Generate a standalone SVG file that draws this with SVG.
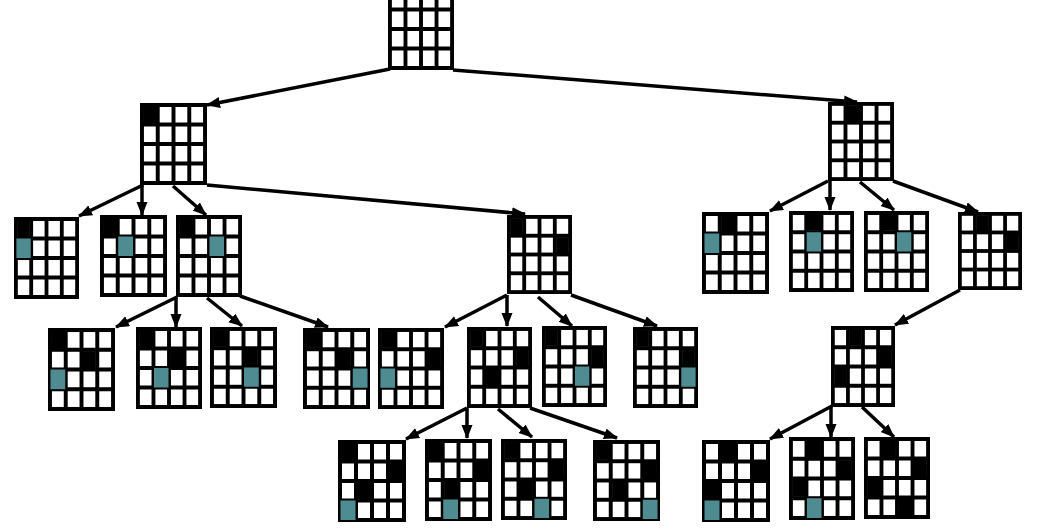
<svg xmlns="http://www.w3.org/2000/svg" xmlns:xlink="http://www.w3.org/1999/xlink" width="1038" height="532" viewBox="0 0 1038 532">
<style>
.c{fill:#fff}
.q{fill:#000}
.t{fill:#4e8c92}
.e{fill:none;stroke:#000;stroke-width:3.5;marker-end:url(#ah)}
</style>
<defs>
<marker id="ah" markerUnits="userSpaceOnUse" markerWidth="15" markerHeight="12" refX="13" refY="5.5" orient="auto">
<path d="M0,0 L14,5.5 L0,11 z" fill="#000"/>
</marker>
<g id="board">
<rect width="68" height="82" fill="#000"/>
<rect class="c" x="4" y="4" width="12" height="15.5"/>
<rect class="c" x="20" y="4" width="12" height="15.5"/>
<rect class="c" x="36" y="4" width="12" height="15.5"/>
<rect class="c" x="52" y="4" width="12" height="15.5"/>
<rect class="c" x="4" y="23.5" width="12" height="15.5"/>
<rect class="c" x="20" y="23.5" width="12" height="15.5"/>
<rect class="c" x="36" y="23.5" width="12" height="15.5"/>
<rect class="c" x="52" y="23.5" width="12" height="15.5"/>
<rect class="c" x="4" y="43" width="12" height="15.5"/>
<rect class="c" x="20" y="43" width="12" height="15.5"/>
<rect class="c" x="36" y="43" width="12" height="15.5"/>
<rect class="c" x="52" y="43" width="12" height="15.5"/>
<rect class="c" x="4" y="62.5" width="12" height="15.5"/>
<rect class="c" x="20" y="62.5" width="12" height="15.5"/>
<rect class="c" x="36" y="62.5" width="12" height="15.5"/>
<rect class="c" x="52" y="62.5" width="12" height="15.5"/>
</g>
</defs>
<rect width="1038" height="532" fill="#fff"/>

<g id="connectors">
<line class="e" x1="390" y1="69" x2="207" y2="105"/>
<line class="e" x1="453" y1="70" x2="857" y2="102"/>
<line class="e" x1="143" y1="185" x2="79" y2="216"/>
<line class="e" x1="142" y1="185" x2="142" y2="215"/>
<line class="e" x1="173" y1="186" x2="206" y2="215"/>
<line class="e" x1="207" y1="185" x2="525" y2="214"/>
<line class="e" x1="828" y1="181" x2="770" y2="211"/>
<line class="e" x1="830" y1="181" x2="830" y2="210"/>
<line class="e" x1="860" y1="182" x2="894" y2="210"/>
<line class="e" x1="893" y1="181" x2="978" y2="212"/>
<line class="e" x1="960" y1="290" x2="895" y2="325"/>
<line class="e" x1="177" y1="297" x2="116" y2="327"/>
<line class="e" x1="176" y1="297" x2="176" y2="327"/>
<line class="e" x1="207" y1="298" x2="242" y2="326"/>
<line class="e" x1="240" y1="296" x2="328" y2="327"/>
<line class="e" x1="507" y1="295" x2="445" y2="327"/>
<line class="e" x1="507" y1="295" x2="507" y2="326"/>
<line class="e" x1="538" y1="297" x2="572" y2="326"/>
<line class="e" x1="571" y1="295" x2="657" y2="326"/>
<line class="e" x1="467" y1="408" x2="406" y2="439"/>
<line class="e" x1="467" y1="408" x2="467" y2="438"/>
<line class="e" x1="498" y1="409" x2="532" y2="437"/>
<line class="e" x1="530" y1="408" x2="617" y2="438"/>
<line class="e" x1="832" y1="406" x2="770" y2="439"/>
<line class="e" x1="831" y1="407" x2="831" y2="437"/>
<line class="e" x1="862" y1="407" x2="894" y2="437"/>
</g>

<g id="n-root" transform="translate(388,-12) scale(0.9706,1)"><use xlink:href="#board" href="#board"/></g>

<g id="n-1a" transform="translate(140,103) scale(0.9853,1)"><use xlink:href="#board" href="#board"/>
<rect class="q" x="3.5" y="3.5" width="13" height="16.5"/></g>

<g id="n-1b" transform="translate(828,102) scale(0.9706,0.9634)"><use xlink:href="#board" href="#board"/>
<rect class="q" x="19.5" y="3.5" width="13" height="16.5"/></g>

<g id="n-2a" transform="translate(14,217) scale(0.9559,1)"><use xlink:href="#board" href="#board"/>
<rect class="q" x="3.5" y="3.5" width="13" height="16.5"/>
<rect class="t" x="2.5" y="21.5" width="15" height="19.5"/></g>

<g id="n-2b" transform="translate(100,215) scale(0.9853,1)"><use xlink:href="#board" href="#board"/>
<rect class="q" x="3.5" y="3.5" width="13" height="16.5"/>
<rect class="t" x="18.5" y="21.5" width="15" height="19.5"/></g>

<g id="n-2c" transform="translate(176,215) scale(0.9706,1)"><use xlink:href="#board" href="#board"/>
<rect class="q" x="3.5" y="3.5" width="13" height="16.5"/>
<rect class="t" x="34.5" y="21.5" width="15" height="19.5"/></g>

<g id="n-2m" transform="translate(507,215) scale(0.9559,0.9634)"><use xlink:href="#board" href="#board"/>
<rect class="q" x="3.5" y="3.5" width="13" height="16.5"/>
<rect class="q" x="51.5" y="23" width="13" height="16.5"/></g>

<g id="n-2ra" transform="translate(702,212) scale(0.9853,1)"><use xlink:href="#board" href="#board"/>
<rect class="q" x="19.5" y="3.5" width="13" height="16.5"/>
<rect class="t" x="2.5" y="21.5" width="15" height="19.5"/></g>

<g id="n-2rb" transform="translate(789,211) scale(0.9559,0.9878)"><use xlink:href="#board" href="#board"/>
<rect class="q" x="19.5" y="3.5" width="13" height="16.5"/>
<rect class="t" x="18.5" y="21.5" width="15" height="19.5"/></g>

<g id="n-2rc" transform="translate(864,211) scale(0.9559,0.9878)"><use xlink:href="#board" href="#board"/>
<rect class="q" x="19.5" y="3.5" width="13" height="16.5"/>
<rect class="t" x="34.5" y="21.5" width="15" height="19.5"/></g>

<g id="n-2rd" transform="translate(958,212) scale(0.9412,0.9512)"><use xlink:href="#board" href="#board"/>
<rect class="q" x="19.5" y="3.5" width="13" height="16.5"/>
<rect class="q" x="51.5" y="23" width="13" height="16.5"/></g>

<g id="n-3i" transform="translate(48,328) scale(0.9853,1.0122)"><use xlink:href="#board" href="#board"/>
<rect class="q" x="3.5" y="3.5" width="13" height="16.5"/>
<rect class="q" x="35.5" y="23" width="13" height="16.5"/>
<rect class="t" x="2.5" y="41" width="15" height="19.5"/></g>

<g id="n-3j" transform="translate(136,327) scale(0.9706,1)"><use xlink:href="#board" href="#board"/>
<rect class="q" x="3.5" y="3.5" width="13" height="16.5"/>
<rect class="q" x="35.5" y="23" width="13" height="16.5"/>
<rect class="t" x="18.5" y="41" width="15" height="19.5"/></g>

<g id="n-3k" transform="translate(210,327) scale(0.9853,0.9878)"><use xlink:href="#board" href="#board"/>
<rect class="q" x="3.5" y="3.5" width="13" height="16.5"/>
<rect class="q" x="35.5" y="23" width="13" height="16.5"/>
<rect class="t" x="34.5" y="41" width="15" height="19.5"/></g>

<g id="n-3l" transform="translate(303,328) scale(0.9853,0.9878)"><use xlink:href="#board" href="#board"/>
<rect class="q" x="3.5" y="3.5" width="13" height="16.5"/>
<rect class="q" x="35.5" y="23" width="13" height="16.5"/>
<rect class="t" x="50.5" y="41" width="15" height="19.5"/></g>

<g id="n-3e" transform="translate(378,328) scale(0.9706,0.9878)"><use xlink:href="#board" href="#board"/>
<rect class="q" x="3.5" y="3.5" width="13" height="16.5"/>
<rect class="q" x="51.5" y="23" width="13" height="16.5"/>
<rect class="t" x="2.5" y="41" width="15" height="19.5"/></g>

<g id="n-3f" transform="translate(467,327) scale(0.9559,0.9878)"><use xlink:href="#board" href="#board"/>
<rect class="q" x="3.5" y="3.5" width="13" height="16.5"/>
<rect class="q" x="51.5" y="23" width="13" height="16.5"/>
<rect class="q" x="19.5" y="42.5" width="13" height="16.5"/></g>

<g id="n-3g" transform="translate(542,326) scale(0.9559,0.9878)"><use xlink:href="#board" href="#board"/>
<rect class="q" x="3.5" y="3.5" width="13" height="16.5"/>
<rect class="q" x="51.5" y="23" width="13" height="16.5"/>
<rect class="t" x="34.5" y="41" width="15" height="19.5"/></g>

<g id="n-3h" transform="translate(633,327) scale(0.9559,0.9878)"><use xlink:href="#board" href="#board"/>
<rect class="q" x="3.5" y="3.5" width="13" height="16.5"/>
<rect class="q" x="51.5" y="23" width="13" height="16.5"/>
<rect class="t" x="50.5" y="41" width="15" height="19.5"/></g>

<g id="n-3q" transform="translate(831,326) scale(0.9412,0.9878)"><use xlink:href="#board" href="#board"/>
<rect class="q" x="19.5" y="3.5" width="13" height="16.5"/>
<rect class="q" x="51.5" y="23" width="13" height="16.5"/>
<rect class="q" x="3.5" y="42.5" width="13" height="16.5"/></g>

<g id="n-4m" transform="translate(338,440) scale(1,1)"><use xlink:href="#board" href="#board"/>
<rect class="q" x="3.5" y="3.5" width="13" height="16.5"/>
<rect class="q" x="51.5" y="23" width="13" height="16.5"/>
<rect class="q" x="19.5" y="42.5" width="13" height="16.5"/>
<rect class="t" x="2.5" y="60.5" width="15" height="19.5"/></g>

<g id="n-4n" transform="translate(425,439) scale(0.9853,1)"><use xlink:href="#board" href="#board"/>
<rect class="q" x="3.5" y="3.5" width="13" height="16.5"/>
<rect class="q" x="51.5" y="23" width="13" height="16.5"/>
<rect class="q" x="19.5" y="42.5" width="13" height="16.5"/>
<rect class="t" x="18.5" y="60.5" width="15" height="19.5"/></g>

<g id="n-4o" transform="translate(501,439) scale(0.9706,0.9878)"><use xlink:href="#board" href="#board"/>
<rect class="q" x="3.5" y="3.5" width="13" height="16.5"/>
<rect class="q" x="51.5" y="23" width="13" height="16.5"/>
<rect class="q" x="19.5" y="42.5" width="13" height="16.5"/>
<rect class="t" x="34.5" y="60.5" width="15" height="19.5"/></g>

<g id="n-4p" transform="translate(593,440) scale(0.9853,0.9878)"><use xlink:href="#board" href="#board"/>
<rect class="q" x="3.5" y="3.5" width="13" height="16.5"/>
<rect class="q" x="51.5" y="23" width="13" height="16.5"/>
<rect class="q" x="19.5" y="42.5" width="13" height="16.5"/>
<rect class="t" x="50.5" y="60.5" width="15" height="19.5"/></g>

<g id="n-4r" transform="translate(702,440) scale(1,1)"><use xlink:href="#board" href="#board"/>
<rect class="q" x="19.5" y="3.5" width="13" height="16.5"/>
<rect class="q" x="51.5" y="23" width="13" height="16.5"/>
<rect class="q" x="3.5" y="42.5" width="13" height="16.5"/>
<rect class="t" x="2.5" y="60.5" width="15" height="19.5"/></g>

<g id="n-4s" transform="translate(789,437) scale(0.9706,1.0122)"><use xlink:href="#board" href="#board"/>
<rect class="q" x="19.5" y="3.5" width="13" height="16.5"/>
<rect class="q" x="51.5" y="23" width="13" height="16.5"/>
<rect class="q" x="3.5" y="42.5" width="13" height="16.5"/>
<rect class="t" x="18.5" y="60.5" width="15" height="19.5"/></g>

<g id="n-4t" transform="translate(864,437) scale(0.9706,1)"><use xlink:href="#board" href="#board"/>
<rect class="q" x="19.5" y="3.5" width="13" height="16.5"/>
<rect class="q" x="51.5" y="23" width="13" height="16.5"/>
<rect class="q" x="3.5" y="42.5" width="13" height="16.5"/>
<rect class="q" x="35.5" y="62" width="13" height="16.5"/></g>
</svg>
